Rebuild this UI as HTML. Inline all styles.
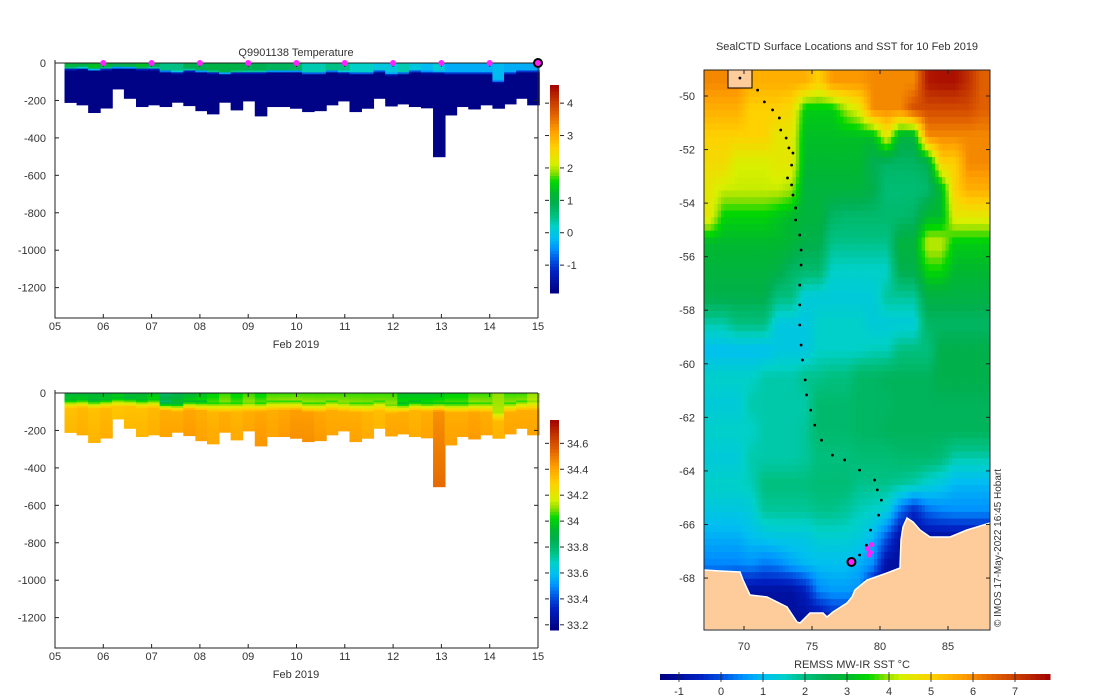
<!DOCTYPE html>
<html><head><meta charset="utf-8"><style>
html,body{margin:0;padding:0;background:#fff;width:1100px;height:700px;overflow:hidden}
svg text{font-family:"Liberation Sans","DejaVu Sans",sans-serif;font-size:11px;fill:#333}
</style></head><body>
<svg id="fig" width="1100" height="700" xmlns="http://www.w3.org/2000/svg"></svg>
<script>
// ---------- data: section profiles ----------
const times=[5.32,5.57,5.81,6.06,6.30,6.55,6.80,7.04,7.29,7.53,7.78,8.03,8.27,8.52,8.76,9.01,9.26,9.50,9.75,9.99,10.24,10.49,10.73,10.98,11.22,11.47,11.72,11.96,12.21,12.45,12.70,12.95,13.19,13.44,13.68,13.93,14.18,14.42,14.67,14.90];
const maxDepth=[210,223,264,240,138,188,232,223,232,209,227,254,271,209,250,202,282,232,232,241,259,254,223,202,259,241,188,229,218,232,239,500,277,232,245,223,241,218,188,223];
const mld=[30,28,35,30,25,25,30,30,45,50,40,45,50,55,50,50,50,45,45,45,55,55,45,50,55,55,45,60,55,45,50,50,55,55,55,55,100,55,45,45];
const surfT=[1.1,1.0,1.3,1.1,0.9,1.0,1.3,0.9,0.5,0.5,0.9,0.9,1.0,1.0,1.0,0.9,0.9,0.8,0.8,0.8,0.3,0.3,0.5,0.5,0.2,0.2,0.0,0.0,0.3,0.0,-0.2,0.1,-0.3,-0.3,-0.3,-0.3,-0.2,-0.3,-0.3,-0.3];
const surfS=[33.9,33.9,33.9,33.9,33.95,33.9,33.9,33.95,33.8,33.85,33.9,33.95,34.0,34.05,34.0,34.05,34.0,34.05,34.05,34.05,34.05,34.05,34.05,34.05,34.05,34.05,34.05,34.05,33.95,33.95,33.95,33.95,34.0,34.0,34.05,34.05,34.1,34.05,34.05,34.1];
const deepS=[34.33,34.35,34.33,34.35,34.32,34.33,34.33,34.35,34.38,34.38,34.4,34.38,34.36,34.38,34.36,34.38,34.4,34.38,34.4,34.42,34.42,34.4,34.38,34.38,34.38,34.36,34.34,34.38,34.38,34.36,34.38,34.45,34.38,34.38,34.4,34.38,34.35,34.38,34.38,34.38];
const markerDays=[6,7,8,9,10,11,12,13,14];
const xTickDays=[5,6,7,8,9,10,11,12,13,14,15];
const xTickLabels=["05","06","07","08","09","10","11","12","13","14","15"];
const depthTicks=[0,-200,-400,-600,-800,-1000,-1200];
const tempTicks=[4,3,2,1,0,-1];
const salTicks=[34.6,34.4,34.2,34,33.8,33.6,33.4,33.2];
// ---------- data: map ----------
const gridLons=[67.5,68.5,69.5,70.5,71.5,72.5,73.5,74.5,75.5,76.5,77.5,78.5,79.5,80.5,81.5,82.5,83.5,84.5,85.5,86.5,87.5];
const gridLats=[-49.5,-50.5,-51.5,-52.5,-53.5,-54.5,-55.5,-56.5,-57.5,-58.5,-59.5,-60.5,-61.5,-62.5,-63.5,-64.5,-65.5,-66.5,-67.5,-68.5,-69.5];
const sst=[
[6,6,6,5.5,5.5,5.5,5.5,5.5,5,5.8,5.8,5.8,6,6,6,6,7.5,7.6,7.6,7.2,6.5],
[5.5,5.5,5.5,5,5,5,4.8,3.3,3.3,3.3,4,4.5,6,6,6,6.8,6.8,6.8,6.8,6.8,6.5],
[5,5,5,5,5,4.5,4.5,3.1,3.1,3.1,3.1,3.1,3.1,4.5,2.8,2.8,6,6,6,6,6],
[4.8,4.8,4.3,4.3,4.3,4.5,4.5,3.0,3.0,3.0,3.0,3.0,2.5,2.3,2.3,2.3,2.5,5,5,6,6],
[4.5,4.2,4.2,4.2,4.2,4.2,4,2.8,2.8,2.8,2.8,2.8,2.6,2.1,2.1,2.1,2.2,3.0,5,5.5,5.5],
[4.5,3.4,3.4,3.4,3.4,3.2,3,2.8,2.8,2.3,2.2,2.2,2.2,2.2,2.2,2.3,3.0,3.0,4.5,4.5,4.5],
[3,3,3,3,3,3,2.9,2.6,2.6,1.9,1.9,1.9,1.9,1.9,2.8,2.8,4.2,4.2,3.3,3.3,3.3],
[2.8,2.8,2.8,2.8,2.8,2.7,2.3,2.2,2.2,1.5,1.5,1.5,1.5,1.5,2.6,2.6,3.5,3.5,3,3,3],
[2.6,2.6,2.6,2.6,2.6,2,2,1.3,1.3,1.3,1.3,1.3,1.3,1.8,1.8,1.8,2.7,2.7,2.7,2.7,2.7],
[1.7,1.7,2,2,2,1.2,1.2,1.2,1.5,1.5,1.5,1.5,1.3,1.3,1.3,1.3,2.3,2.3,2.3,2.3,2.3],
[1,1,1,1,1,1.2,1.2,1.2,1.5,1.5,1.5,1.5,1.6,1.6,2,2,2,2.6,2.6,2.6,2.6],
[1.5,1.5,1.5,1.5,1.7,1.7,1.7,1.9,1.9,2,2,2.3,2.3,2.4,2.4,2.4,2.4,2.6,2.6,2.6,2.6],
[1.3,1.3,1.3,1.7,1.7,1.7,1.7,1.7,2.2,2.2,2.2,2.3,2.3,2.3,2.4,2.4,2.4,2.4,2.4,2.4,2.4],
[1.5,1.5,1.5,1.5,1.7,1.7,1.7,1.8,2.2,2.2,2.2,2.3,2.3,2.4,2.4,2.4,2.4,2.4,2.4,2.4,2.4],
[1.3,1.3,1.3,1.7,1.7,1.7,1.7,1.8,2.0,2.0,2.0,2.1,2.1,2.1,2.2,2.2,2.2,2.1,1.7,1.7,1.7],
[1.5,1.5,1.5,1.6,2.0,2.0,2.0,2.0,2.1,2.1,2.1,1.9,1.9,1.9,1.8,1.7,1.4,1.2,0.9,0.9,0.9],
[1.2,1.2,1.2,1.3,1.8,1.8,1.8,1.8,1.9,1.9,1.8,1.6,1.5,1.3,0.2,-0.5,0.2,0.4,0.5,0.5,0.5],
[0.8,0.8,0.8,1.0,1.1,1.2,1.2,1.2,1.4,1.4,1.4,1.3,0.9,0,-1,-1,-1,-1,-1,-1,-1],
[0.4,0.4,0.4,0.5,0.3,0.4,0.7,0.9,1.0,1.0,1.0,0.8,0.5,-1,-1,-1,-1,-1,-1,-1,-1],
[-0.5,-0.5,-1,-1,-1,-1,-1,-0.6,0.4,0.6,0.6,0.5,-1,-1,-1,-1,-1,-1,-1,-1,-1],
[-1,-1,-1,-1,-1,-1,-1,-1,-1,-0.5,-0.5,-1,-1,-1,-1,-1,-1,-1,-1,-1,-1]];
const trackLon=[69.7,71.0,71.5,72.1,72.6,72.7,73.1,73.3,73.6,73.5,73.2,73.5,73.6,73.8,73.8,74.1,74.2,74.2,74.1,74.1,74.1,74.2,74.3,74.5,74.6,74.9,75.2,75.7,76.5,77.4,78.5,79.6,79.8,80.1,79.9,79.3,79.0,78.5];
const trackLat=[-49.33,-49.78,-50.22,-50.52,-50.82,-51.27,-51.57,-51.94,-52.13,-52.58,-53.06,-53.32,-53.70,-54.18,-54.63,-55.19,-55.75,-56.31,-57.06,-57.80,-58.55,-59.30,-59.86,-60.60,-61.16,-61.73,-62.29,-62.85,-63.41,-63.59,-63.97,-64.34,-64.71,-65.09,-65.65,-66.21,-66.77,-67.14];
const recentLon=[79.1,79.3,79.2,79.4];
const recentLat=[-66.9,-67.05,-67.15,-66.75];
const currentLon=77.9, currentLat=-67.4;
const lonTicks=[70,75,80,85];
const latTicks=[-50,-52,-54,-56,-58,-60,-62,-64,-66,-68];
const sstTicks=[-1,0,1,2,3,4,5,6,7];

// ---------- helpers ----------
const NS="http://www.w3.org/2000/svg";
const svg=document.getElementById('fig');
function el(tag,attrs,parent){const e=document.createElementNS(NS,tag);for(const k in attrs)e.setAttribute(k,attrs[k]);(parent||svg).appendChild(e);return e;}
function txt(s,x,y,anchor,parent){const t=el('text',{x:x,y:y,'text-anchor':anchor||'middle'},parent);t.textContent=s;return t;}
const stops=[[0,[0,0,128]],[0.10,[0,32,192]],[0.157,[0,80,224]],[0.21,[0,144,255]],[0.265,[0,192,240]],[0.32,[0,208,200]],[0.37,[0,192,128]],[0.43,[0,176,80]],[0.48,[0,184,48]],[0.535,[0,216,0]],[0.58,[144,224,0]],[0.62,[216,240,0]],[0.70,[255,208,0]],[0.775,[255,160,0]],[0.86,[224,96,0]],[0.935,[192,48,0]],[1,[160,0,0]]];
function cmap(t){t=Math.max(0,Math.min(1,t));for(let i=1;i<stops.length;i++){if(t<=stops[i][0]){const a=stops[i-1],b=stops[i];const f=(t-a[0])/(b[0]-a[0]);const c=a[1].map((v,k)=>Math.round(v+(b[1][k]-v)*f));return `rgb(${c[0]},${c[1]},${c[2]})`;}}return 'rgb(160,0,0)';}
const tNorm=v=>(v+1.86)/6.42, sNorm=v=>(v-33.16)/1.62, sstNorm=v=>(v+1.45)/9.25;

// ---------- section plots ----------
function section(top,y0,kind){
  const g=el('g',{});
  
  
  const xs=d=>55+(d-5)*48.3;
  const ys=z=>y0+z*0.1872;
  const half=0.123;
  for(let i=0;i<times.length;i++){
    const x0=xs(times[i]-half), w=xs(times[i]+half)-x0+0.6;
    for(let z=0;z<maxDepth[i];z+=10){
      const zc=z+5;let v;
      if(kind==='temperature'){
        if(zc<mld[i]-8)v=surfT[i];else if(zc<mld[i]+8)v=surfT[i]+(-1.8-surfT[i])*((zc-mld[i]+8)/16);else v=-1.8;
        v=cmap(tNorm(v));
      }else{
        let s;if(zc<mld[i])s=surfS[i]+(deepS[i]-0.15-surfS[i])*(zc/mld[i])*0.3;else if(zc<mld[i]+50)s=surfS[i]+(deepS[i]-surfS[i])*((zc-mld[i])/50);else s=deepS[i]+0.04*(zc-mld[i]-50)/200;
        v=cmap(sNorm(s));
      }
      const h=Math.min(10,maxDepth[i]-z);
      const r=el('rect',{x:x0,y:ys(z),width:w,height:h*0.1872+0.6,fill:v},g);
      
      
    }
  }
  const bottom=y0+255;
  el('path',{d:`M55 ${y0}H538 M55 ${y0-3}V${bottom}H538 M538 ${y0}V${bottom}`,stroke:'#222','stroke-width':1,fill:'none'},g);
  depthTicks.forEach(d=>{const y=ys(-d);el('line',{x1:55,x2:59,y1:y,y2:y,stroke:'#222'},g);el('line',{x1:534,x2:538,y1:y,y2:y,stroke:'#222'},g);txt(String(d),46,y+4,'end',g);});
  xTickDays.forEach((d,k)=>{const x=xs(d);el('line',{x1:x,x2:x,y1:bottom,y2:bottom-4,stroke:'#222'},g);el('line',{x1:x,x2:x,y1:y0,y2:y0+4,stroke:'#222'},g);txt(xTickLabels[k],x,bottom+12,'middle',g);});
  const xl=txt('Feb 2019',296,bottom+30,'middle',g);
  
  
  const cb=el('g',{},g);
  
  
  const cy0=top?85:420, cy1=top?293:630, lo=top?-1.86:33.16, hi=top?4.56:34.78, ticks=top?tempTicks:salTicks;
  const n=64;for(let k=0;k<n;k++){const v=hi-(k+0.5)*(hi-lo)/n;el('rect',{x:550,y:cy0+k*(cy1-cy0)/n,width:9,height:(cy1-cy0)/n+0.5,fill:top?cmap(tNorm(v)):cmap(sNorm(v))},cb);}
  ticks.forEach(t=>{const y=cy0+(hi-t)/(hi-lo)*(cy1-cy0);el('line',{x1:545,x2:549,y1:y,y2:y,stroke:'#222'},cb);el('line',{x1:560,x2:564,y1:y,y2:y,stroke:'#222'},cb);txt(String(t),567,y+4,'start',cb);});
  if(top){
    const tt=txt('Q9901138  Temperature',296,56,'middle',g);
    
    
    markerDays.forEach(d=>{const c=el('circle',{cx:xs(d),cy:y0,r:3,fill:'#ff22ff'},g);
      
      });
    const c=el('circle',{cx:xs(15),cy:y0,r:4,fill:'#ff22ff',stroke:'#000','stroke-width':2},g);
    
    
  }
}
section(true,63,'temperature');
section(false,393,'salinity');

// ---------- map ----------
const mg=el('g',{});


const mx=lon=>744+(lon-70)*13.6;
const my=lat=>96+(-50-lat)*26.78;
const L0=67.06,L1=88.1,A0=-49.03,A1=-69.94;
function sample(lon,lat){
  let fj=Math.max(0,Math.min(gridLons.length-1.001,lon-gridLons[0]));
  let fi=Math.max(0,Math.min(gridLats.length-1.001,gridLats[0]-lat));
  const j=Math.floor(fj),i=Math.floor(fi),a=fj-j,b=fi-i;
  return sst[i][j]*(1-a)*(1-b)+sst[i][j+1]*a*(1-b)+sst[i+1][j]*(1-a)*b+sst[i+1][j+1]*a*b;
}
const step=0.25;
for(let lat=A0;lat>A1;lat-=step){for(let lon=L0;lon<L1;lon+=step){
  const v=sample(lon+step/2,lat-step/2);
  const x=mx(lon),y=my(lat),w=Math.min(mx(lon+step),990)-x+0.5,h=Math.min(my(lat-step),630)-y+0.5;
  el('rect',{x:x,y:y,width:w,height:h,fill:cmap(sstNorm(v))},mg);
}}
const land=el('path',{d:'M704 570 L720 571 L740 572 L743 580 L750 595 L767 597 L787 607 L797 622 L800 623 L810 613 L823 613 L827 617 L833 612 L847 603 L852 597 L855 590 L867 580 L887 573 L900 568 L901 540 L903 527 L907 518 L913 522 L920 530 L930 537 L950 537 L967 530 L990 523 L990 630 L704 630 Z',fill:'#fecc9a',stroke:'#fff','stroke-width':1.5},mg);


const isl=el('rect',{x:728,y:70,width:24,height:18,fill:'#fecc9a',stroke:'#000','stroke-width':1},mg);


for(let k=0;k<trackLon.length;k++){const c=el('circle',{cx:mx(trackLon[k]),cy:my(trackLat[k]),r:1.4,fill:'#000'},mg);
  
  }
for(let k=0;k<recentLon.length;k++){const c=el('circle',{cx:mx(recentLon[k]),cy:my(recentLat[k]),r:2.5,fill:'#ff22ff'},mg);
  
  }
const cur=el('circle',{cx:mx(currentLon),cy:my(currentLat),r:4,fill:'#ff22ff',stroke:'#000','stroke-width':2},mg);


el('rect',{x:704,y:70,width:286,height:560,fill:'none',stroke:'#222'},mg);
lonTicks.forEach(l=>{const x=mx(l);el('line',{x1:x,x2:x,y1:630,y2:626,stroke:'#222'},mg);el('line',{x1:x,x2:x,y1:70,y2:74,stroke:'#222'},mg);txt(String(l),x,650,'middle',mg);});
latTicks.forEach(l=>{const y=my(l);el('line',{x1:704,x2:708,y1:y,y2:y,stroke:'#222'},mg);el('line',{x1:986,x2:990,y1:y,y2:y,stroke:'#222'},mg);txt(String(l),695,y+4,'end',mg);});
const mt=txt('SealCTD Surface Locations and SST for 10 Feb 2019',847,50,'middle');


const cr=txt('© IMOS 17-May-2022 16:45 Hobart',0,0,'middle');
cr.setAttribute('transform','translate(1001,548) rotate(-90)');
cr.setAttribute('style','font-size:10px');


const scb=el('g',{});


const sx=v=>679+(v+1)*42;
for(let k=0;k<80;k++){const v=-1.45+(k+0.5)*9.25/80;el('rect',{x:660+k*390/80,y:674,width:390/80+0.5,height:6,fill:cmap(sstNorm(v))},scb);}
sstTicks.forEach(t=>{const x=sx(t);el('line',{x1:x,x2:x,y1:672,y2:682,stroke:'#222','stroke-width':0.8},scb);txt(String(t),x,695,'middle',scb);});
const sl=txt('REMSS MW-IR SST °C',852,668,'middle',scb);


</script>
</body></html>
